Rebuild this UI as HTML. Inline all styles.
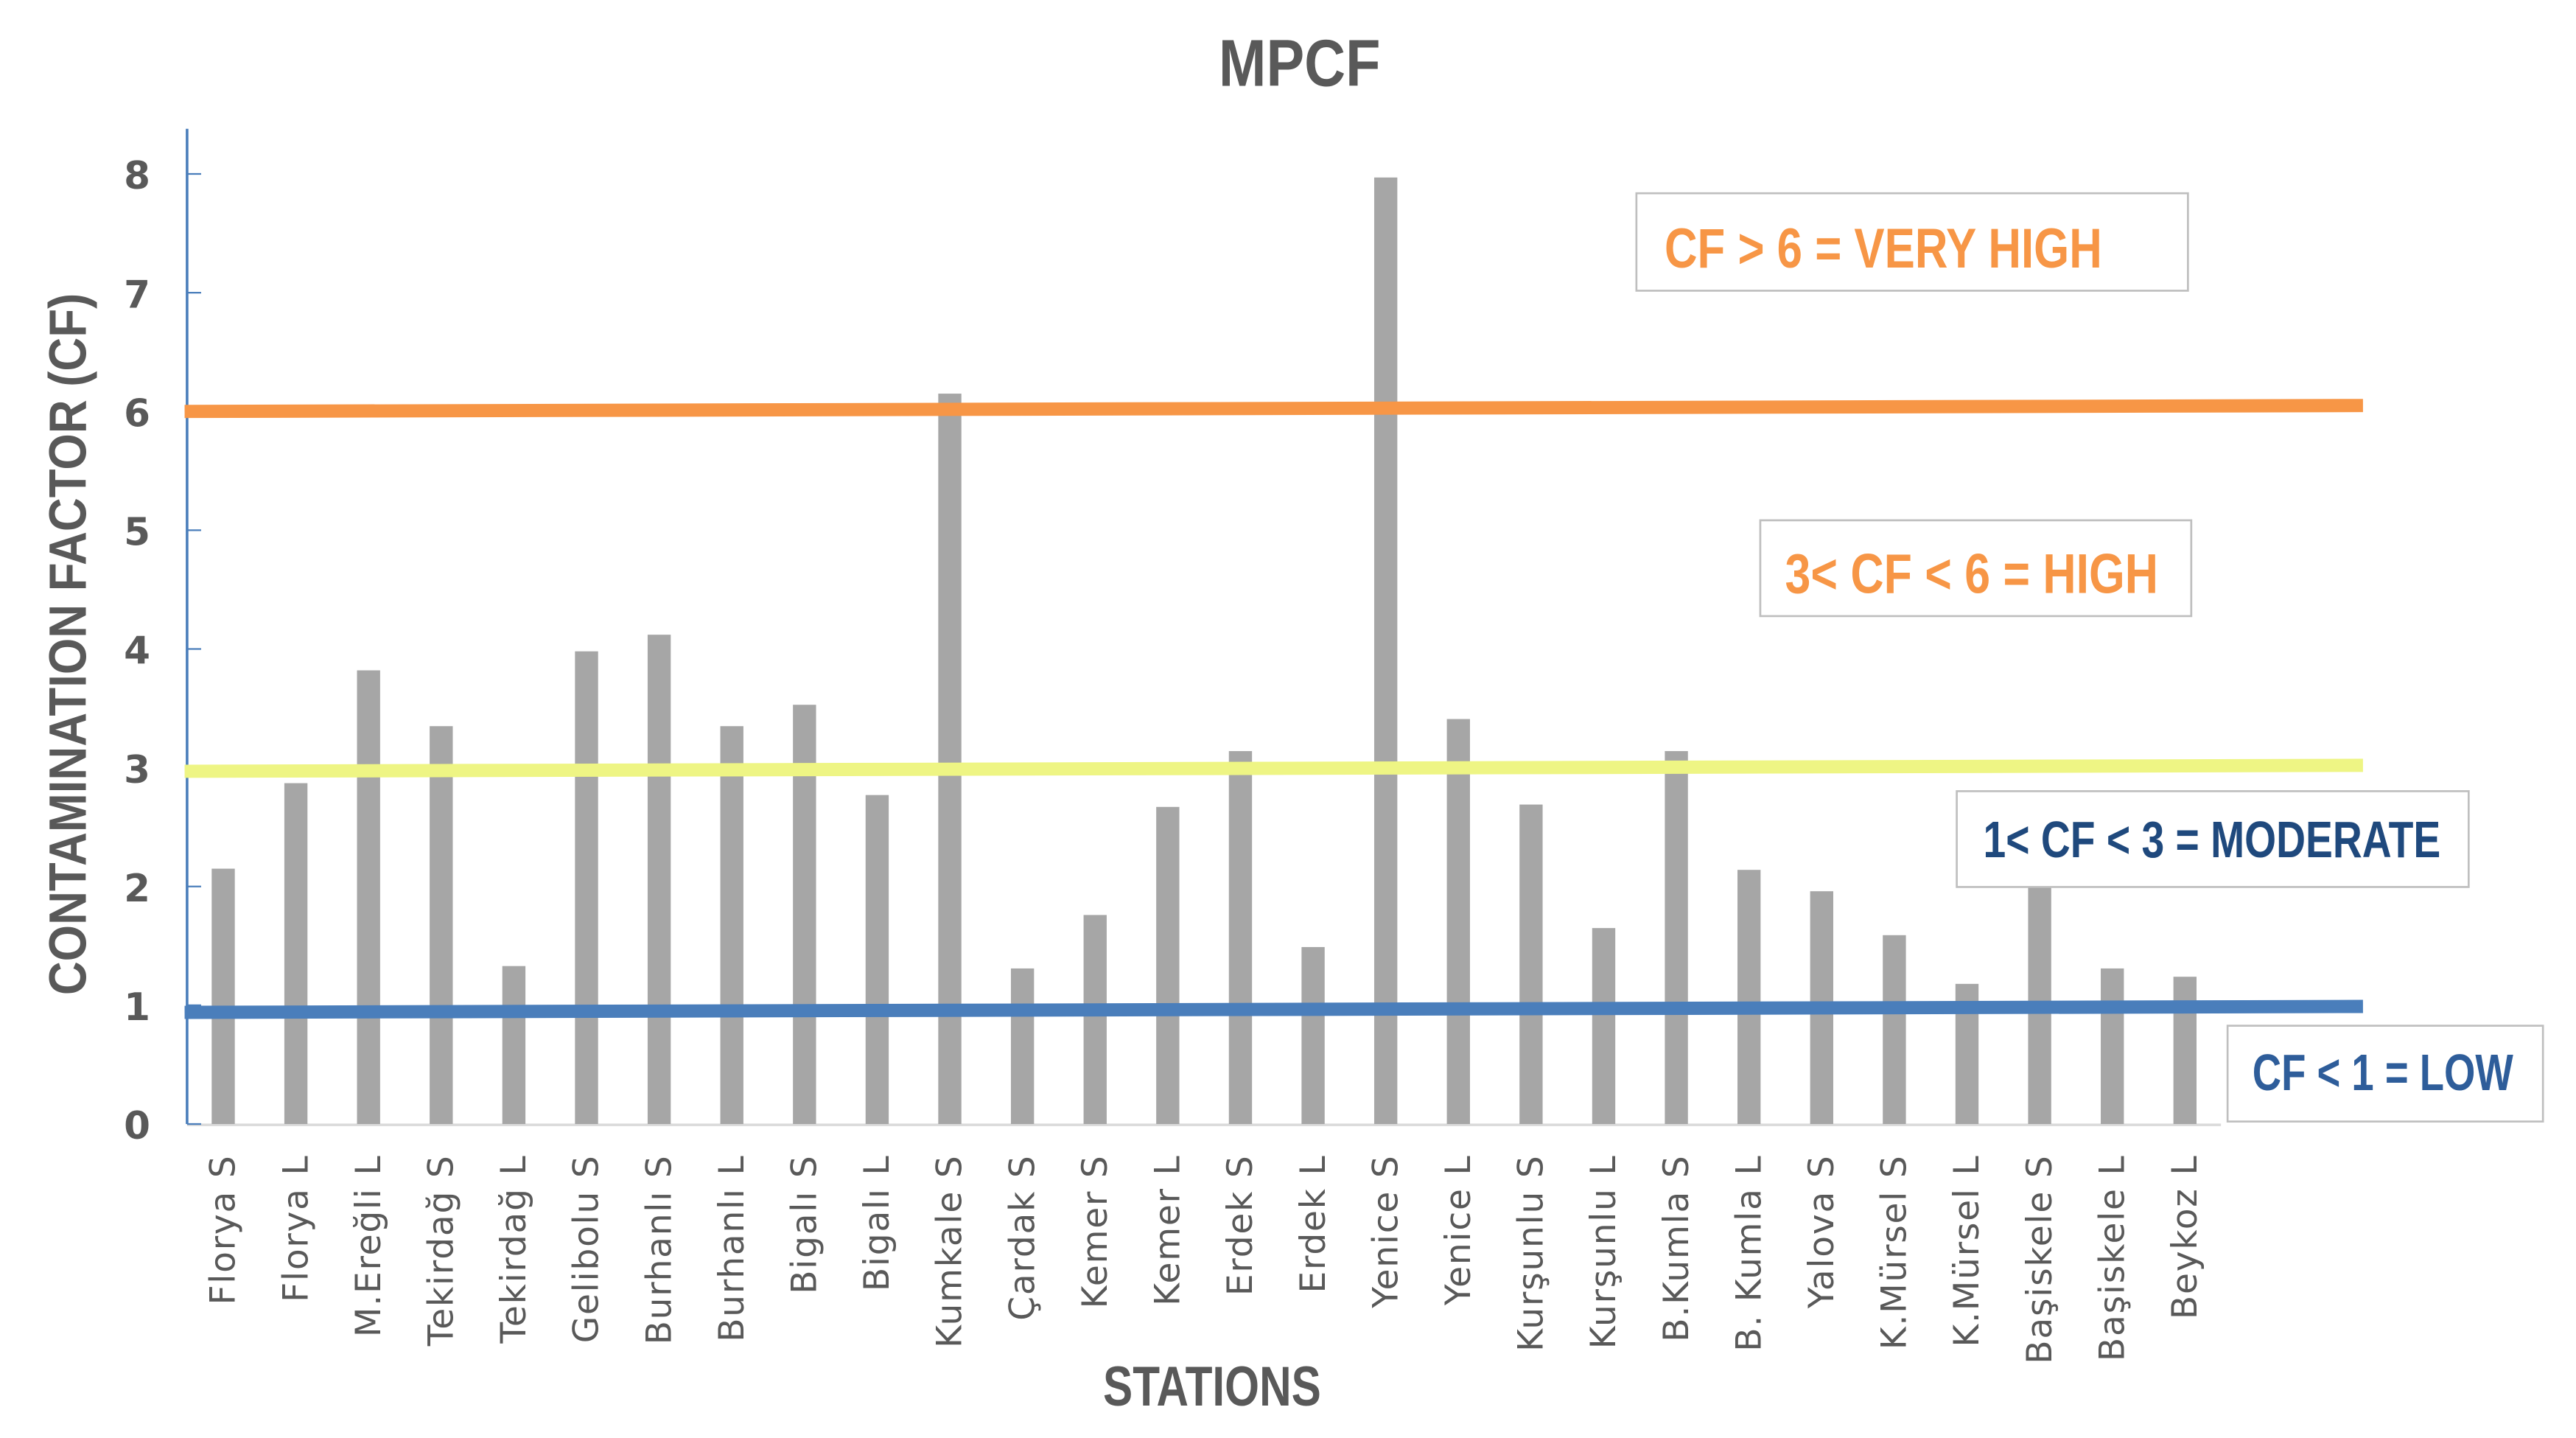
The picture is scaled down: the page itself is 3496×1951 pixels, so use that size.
<!DOCTYPE html>
<html><head><meta charset="utf-8"><style>
html,body{margin:0;padding:0;background:#fff;}
svg{display:block;}
</style></head><body>
<svg id="chart" width="3496" height="1951" viewBox="0 0 1560 870.6" preserveAspectRatio="none" xmlns="http://www.w3.org/2000/svg">
<rect x="0" y="0" width="1560" height="870.6" fill="#fff"/>
<text x="787" y="52" text-anchor="middle" font-family="'Liberation Sans Narrow','Liberation Sans',sans-serif" font-weight="bold" font-size="40" fill="#595959" textLength="98" lengthAdjust="spacingAndGlyphs">MPCF</text>
<text transform="translate(52,390) rotate(-90)" text-anchor="middle" font-family="'Liberation Sans Narrow','Liberation Sans',sans-serif" font-weight="bold" font-size="32" fill="#595959" textLength="425" lengthAdjust="spacingAndGlyphs">CONTAMINATION FACTOR (CF)</text>
<text x="734" y="851" text-anchor="middle" font-family="'Liberation Sans Narrow','Liberation Sans',sans-serif" font-weight="bold" font-size="34" fill="#595959" textLength="132" lengthAdjust="spacingAndGlyphs">STATIONS</text>
<g id="grid"></g>
<g id="bars"></g>
<g id="xlabels"></g>
<g id="ylabels"></g>
<g id="thresholds"></g>
<g>
<rect x="991" y="117" width="334" height="59" fill="#fff" stroke="#bfbfbf" stroke-width="1.2"/>
<text x="1008" y="162" font-family="'Liberation Sans Narrow','Liberation Sans',sans-serif" font-weight="bold" font-size="34" fill="#f79646" textLength="265" lengthAdjust="spacingAndGlyphs">CF &gt; 6 = VERY HIGH</text>
</g>
<g>
<rect x="1066" y="315" width="261" height="58" fill="#fff" stroke="#bfbfbf" stroke-width="1.2"/>
<text x="1081" y="359" font-family="'Liberation Sans Narrow','Liberation Sans',sans-serif" font-weight="bold" font-size="34" fill="#f79646" textLength="226" lengthAdjust="spacingAndGlyphs">3&lt; CF &lt; 6 = HIGH</text>
</g>
<g>
<rect x="1185" y="479" width="310" height="58" fill="#fff" stroke="#bfbfbf" stroke-width="1.2"/>
<text x="1201" y="519" font-family="'Liberation Sans Narrow','Liberation Sans',sans-serif" font-weight="bold" font-size="31" fill="#1f497d" textLength="277" lengthAdjust="spacingAndGlyphs">1&lt; CF &lt; 3 = MODERATE</text>
</g>
<g>
<rect x="1349" y="621" width="191" height="58" fill="#fff" stroke="#bfbfbf" stroke-width="1.2"/>
<text x="1364" y="660" font-family="'Liberation Sans Narrow','Liberation Sans',sans-serif" font-weight="bold" font-size="31" fill="#2e5d9a" textLength="158" lengthAdjust="spacingAndGlyphs">CF &lt; 1 = LOW</text>
</g>
</svg>
<script>
const categories = ["Florya S","Florya L","M.Ereğli L","Tekirdağ S","Tekirdağ L","Gelibolu S","Burhanlı S","Burhanlı L","Bigalı S","Bigalı L","Kumkale S","Çardak S","Kemer S","Kemer L","Erdek S","Erdek L","Yenice S","Yenice L","Kurşunlu S","Kurşunlu L","B.Kumla S","B. Kumla L","Yalova S","K.Mürsel S","K.Mürsel L","Başiskele S","Başiskele L","Beykoz L"];
const cfValues = [2.15,2.87,3.82,3.35,1.33,3.98,4.12,3.35,3.53,2.77,6.15,1.31,1.76,2.67,3.14,1.49,7.97,3.41,2.69,1.65,3.14,2.14,1.96,1.59,1.18,2.02,1.31,1.24];
const yTicks = [0,1,2,3,4,5,6,7,8];
const thresholdNames = ["very-high-line","high-line","low-line"];
const thresholdStart = [6.0,2.97,0.94];
const thresholdEnd = [6.05,3.02,0.99];
const thresholdColors = ["#f79646","#eef584","#4a7ebb"];

const NS="http://www.w3.org/2000/svg";
const X0=113.3, Y0=680.5, Y8=105.3, FIRST=135.2, STEP=44.0, BW=14, XEND=1431;
const yS = v => Y0 - (Y0-Y8)*v/8;
const xS = i => FIRST + i*STEP;
function mk(tag, attrs, parent){const e=document.createElementNS(NS,tag);for(const k in attrs)e.setAttribute(k,attrs[k]);parent.appendChild(e);return e;}

const grid=document.getElementById('grid');
const yAxis=mk('line',{x1:X0,y1:78,x2:X0,y2:Y0,stroke:'#4a7ebb','stroke-width':1.6},grid);


const xAxis=mk('line',{x1:X0,y1:Y0+0.5,x2:1345,y2:Y0+0.5,stroke:'#d9d9d9','stroke-width':1.6},grid);



const yl=document.getElementById('ylabels');
yTicks.forEach(t=>{
  const tk=mk('line',{x1:X0,y1:yS(t),x2:X0+8.5,y2:yS(t),stroke:'#4a7ebb','stroke-width':1},grid);
  
  
  const tx=mk('text',{x:83,y:yS(t)+9,'text-anchor':'middle','font-family':"'DejaVu Sans',sans-serif",'font-weight':'bold','font-size':23,fill:'#595959'},yl);
  tx.textContent=t;
  
  
});

const bars=document.getElementById('bars');
const xl=document.getElementById('xlabels');
categories.forEach((c,i)=>{
  const v=cfValues[i];
  const r=mk('rect',{x:xS(i)-BW/2,y:yS(v),width:BW,height:Y0-yS(v),fill:'#a6a6a6'},bars);
  
  
  const t=mk('text',{transform:`translate(${xS(i)+7},699) rotate(-90)`,'text-anchor':'end','font-family':"'DejaVu Sans',sans-serif",'font-size':21,'letter-spacing':0.8,fill:'#595959'},xl);
  t.textContent=c;
  
  
});

const th=document.getElementById('thresholds');
thresholdNames.forEach((n,i)=>{
  const l=mk('line',{x1:X0-1.5,y1:yS(thresholdStart[i]),x2:XEND,y2:yS(thresholdEnd[i]),stroke:thresholdColors[i],'stroke-width':8},th);
  
  
});
</script>
</body></html>
